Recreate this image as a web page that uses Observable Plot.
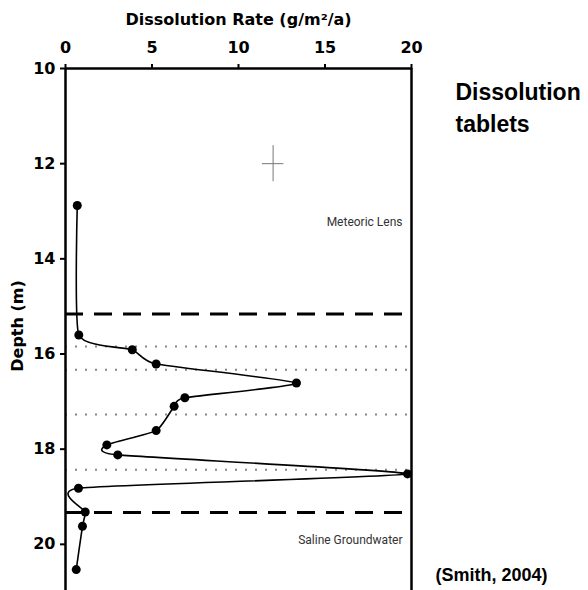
<!DOCTYPE html>
<html>
<head>
<meta charset="utf-8">
<script src="https://cdn.jsdelivr.net/npm/d3@7"></script>
<script src="https://cdn.jsdelivr.net/npm/@observablehq/plot@0.6"></script>
<style>
  html, body { margin: 0; padding: 0; background: #fff; }
  #chart { width: 588px; height: 590px; overflow: hidden; }
</style>
</head>
<body>
<div id="chart"></div>
<script>
// Data
const depth = [12.88, 15.60, 15.91, 16.21, 16.61, 16.92, 17.10, 17.61, 17.91, 18.12, 18.52, 18.82, 19.32, 19.62, 20.53];
const rate  = [0.68, 0.77, 3.86, 5.24, 13.35, 6.90, 6.28, 5.24, 2.39, 3.02, 19.77, 0.75, 1.14, 0.98, 0.62];
const boundaryDepths = [15.16, 19.33];           // thick dashed lines
const layerDepths = [15.84, 16.33, 17.27, 18.43]; // grey dotted lines
const zoneLabels = ["Meteoric Lens", "Saline Groundwater"];
const zoneLabelDepths = [13.22, 19.92];
const xTicks = [0, 5, 10, 15, 20];
const yTicks = [10, 12, 14, 16, 18, 20];
const crossX = [12];
const crossY = [12];
const xTitle = "Dissolution Rate (g/m\u00b2/a)";
const yTitle = "Depth (m)";
const chartTitle = "Dissolution\ntablets";
const source = "(Smith, 2004)";

const points = depth.map((d, i) => ({depth: d, rate: rate[i]}));
const zones = zoneLabels.map((t, i) => ({text: t, depth: zoneLabelDepths[i], x: 20}));
const cross = crossX.map((x, i) => ({x, y: crossY[i]}));

const plot = Plot.plot({
  width: 588,
  height: 590,
  marginLeft: 65,
  marginRight: 177,
  marginTop: 68,
  marginBottom: 0,
  style: {fontFamily: "DejaVu Sans", fontSize: "16px", fontWeight: "bold", color: "#000", background: "#fff", overflow: "visible"},
  x: {domain: [0, 20]},
  y: {domain: [10, 20.97], reverse: true},
  marks: [
    // layer dotted lines
    Plot.ruleY(layerDepths, {x1: 0, x2: 20, stroke: "#888", strokeWidth: 2, strokeDasharray: "2,8"}),
    // boundary dashed lines
    Plot.ruleY(boundaryDepths, {x1: 0, x2: 20, stroke: "#000", strokeWidth: 3, strokeDasharray: "18,11"}),
    // crosshair marker
    Plot.ruleX(cross, {x: "x", y1: d => d.y - 0.38, y2: d => d.y + 0.38, stroke: "#777", strokeWidth: 1}),
    Plot.ruleY(cross, {y: "y", x1: d => d.x - 0.62, x2: d => d.x + 0.62, stroke: "#777", strokeWidth: 1}),
    // frame
    Plot.ruleX([0, 20], {stroke: "#000", strokeWidth: 2.5}),
    Plot.ruleY([10], {stroke: "#000", strokeWidth: 2.5}),
    // axes
    Plot.axisX({anchor: "top", ticks: xTicks, tickSize: 5, tickPadding: 11, label: null, strokeWidth: 2, fontSize: 16}),
    Plot.axisY({anchor: "left", ticks: yTicks, tickSize: 5, tickPadding: 5, label: null, strokeWidth: 2, fontSize: 16}),
    // curve and points
    Plot.line(points, {x: "rate", y: "depth", curve: "cardinal", tension: 0.5, stroke: "#000", strokeWidth: 1.6}),
    Plot.dot(points, {x: "rate", y: "depth", r: 4.5, fill: "#000", stroke: "none"}),
    // zone labels
    Plot.text(zones, {x: "x", y: "depth", text: "text", textAnchor: "end", dx: -9, fontFamily: "Roboto", fontWeight: "normal", fontSize: 12, fill: "#333"}),
    // axis titles
    Plot.text([xTitle], {frameAnchor: "top", dy: -49, lineAnchor: "middle", textAnchor: "middle", fontSize: 16}),
    Plot.text([yTitle], {frameAnchor: "left", dx: -48, dy: -3.5, rotate: -90, lineAnchor: "middle", textAnchor: "middle", fontSize: 16}),
    // chart title and source
    Plot.text([chartTitle], {frameAnchor: "top-right", dx: 44, dy: 9, textAnchor: "start", lineAnchor: "top", lineHeight: 1.39, fontFamily: "Liberation Sans, Arial, sans-serif", fontWeight: "bold", fontSize: 23}),
    Plot.text([source], {frameAnchor: "bottom-right", dx: 24, dy: -15, textAnchor: "start", lineAnchor: "middle", fontFamily: "Liberation Sans, Arial, sans-serif", fontWeight: "bold", fontSize: 18})
  ]
});
document.getElementById("chart").appendChild(plot);
</script>
</body>
</html>
